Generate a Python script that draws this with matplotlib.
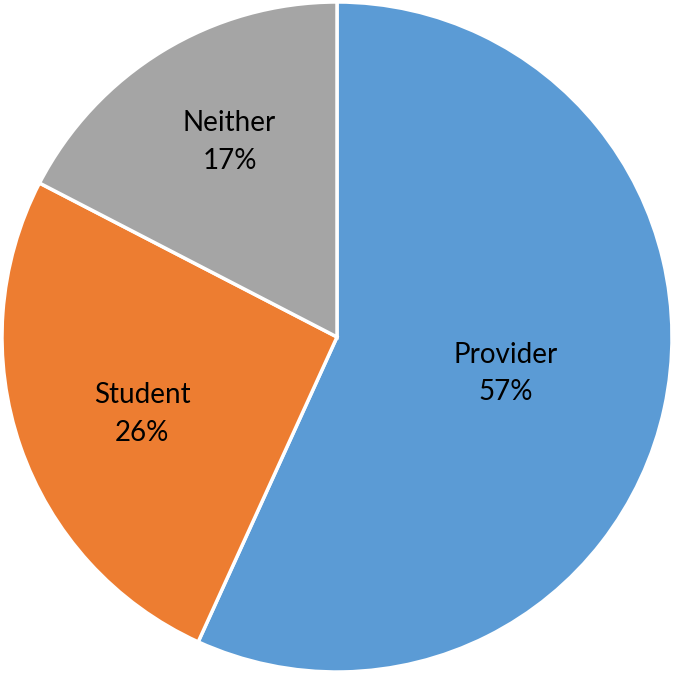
import matplotlib.pyplot as plt
import numpy as np

# data
labels = ["Provider", "Student", "Neither"]
shares = [56.8, 25.8, 17.4]
colors = ["#5B9BD5", "#ED7D31", "#A5A5A5"]
label_radius = [0.515, 0.625, 0.665]   # where Excel put the labels
label_shift = [0, 2.5, -2.5]           # small angular nudges, degrees

fig = plt.figure(figsize=(6.75, 6.73), dpi=100)
ax = fig.add_axes([0, 0, 1, 1])

wedges, _ = ax.pie(shares, colors=colors, startangle=90, counterclock=False,
                   radius=1, wedgeprops=dict(edgecolor="white", linewidth=2.5))

total = sum(shares)
for w, lab, val, r, d in zip(wedges, labels, shares, label_radius, label_shift):
    mid = np.deg2rad((w.theta1 + w.theta2) / 2 + d)
    ax.text(r * np.cos(mid), r * np.sin(mid), f"{lab}\n{round(100 * val / total)}%",
            ha="center", va="center", fontsize=20, family="Lato",
            linespacing=1.55)

ax.set_xlim(-337 / 335, 338 / 335)
ax.set_ylim(-336 / 335, 337 / 335)
ax.set_aspect("auto")
ax.axis("off")

fig.savefig("out.png", dpi=100)
